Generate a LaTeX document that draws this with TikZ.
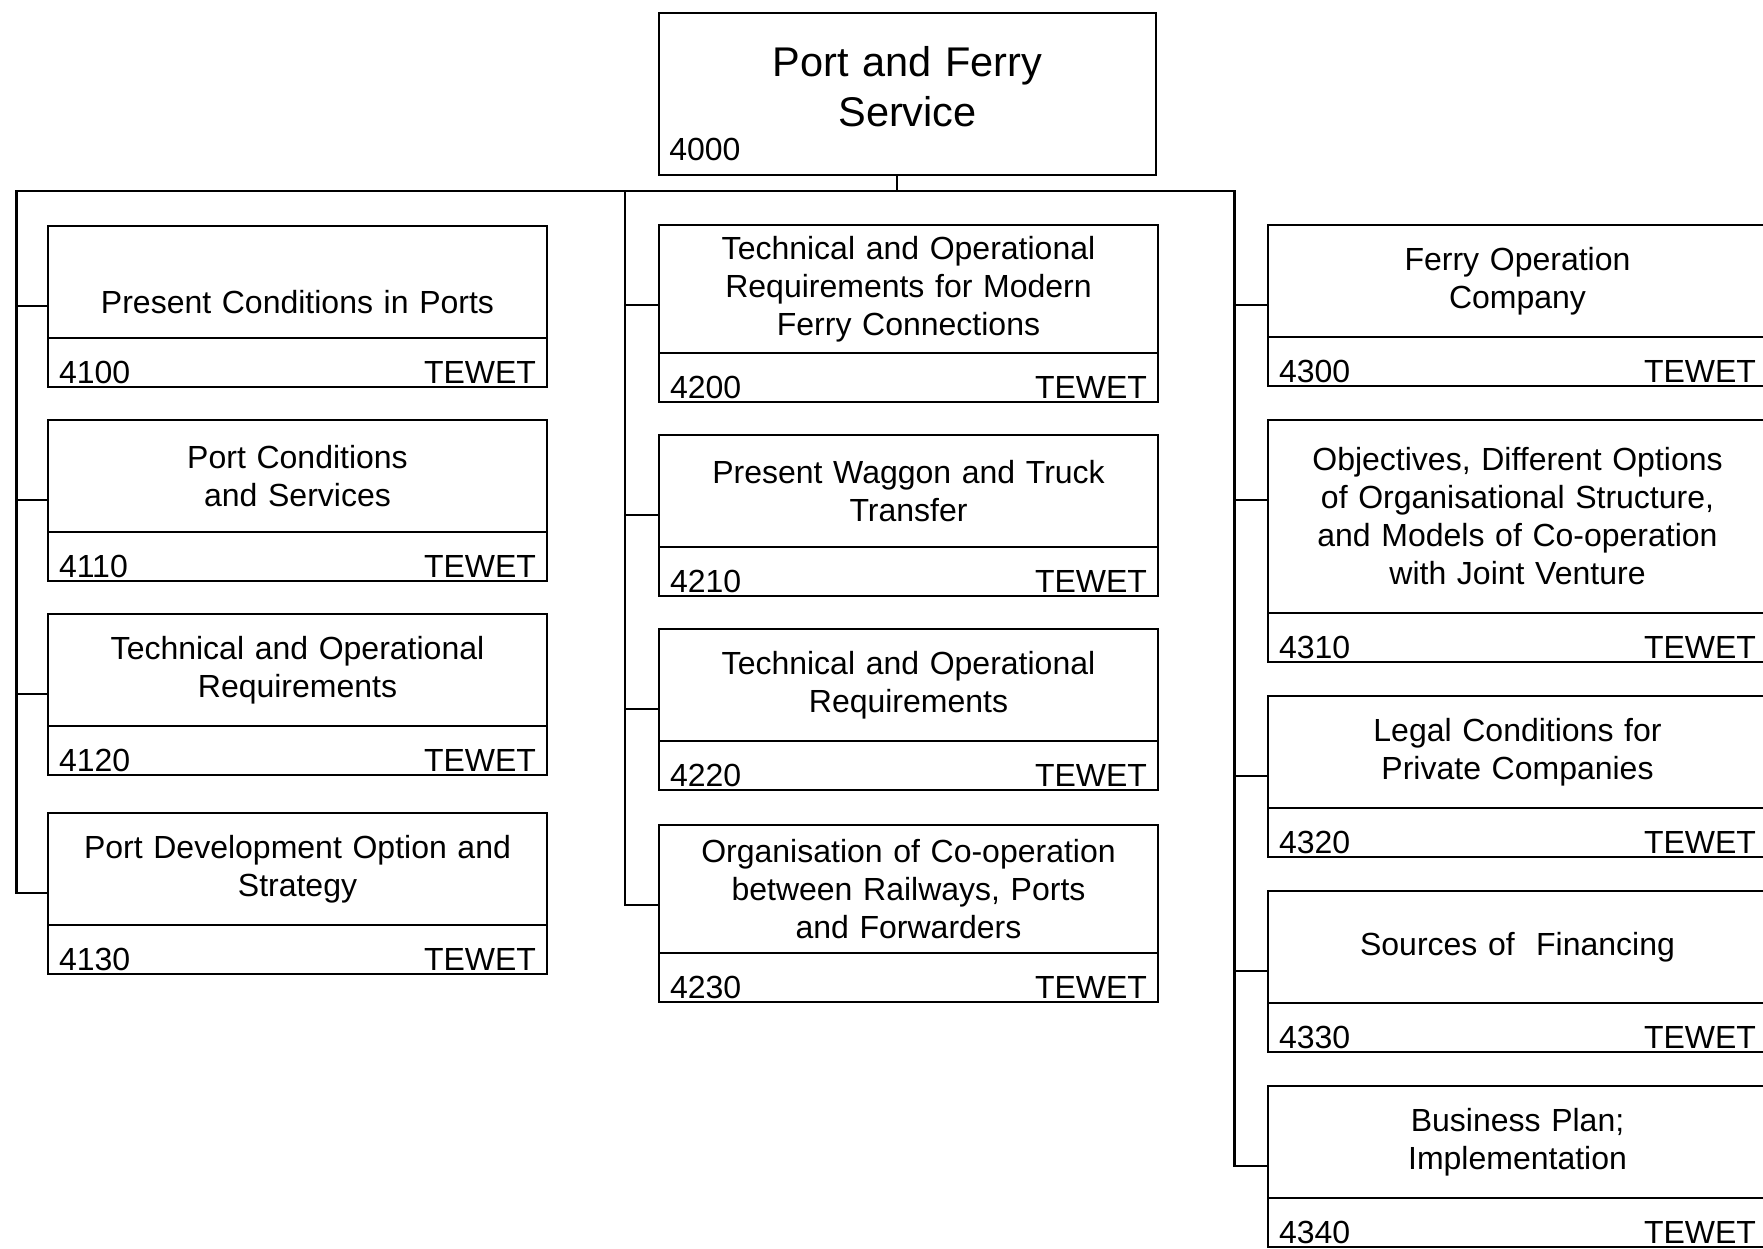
\documentclass[tikz,border=0pt]{standalone}
\usepackage{fontspec}
\setmainfont{Liberation Sans}
\usetikzlibrary{positioning}

\begin{document}
\begin{tikzpicture}[x=1pt, y=-1pt, line width=2.6pt, every node/.style={font=\fontsize{32}{38}\selectfont}]
    % Define styles for the boxes
    \tikzstyle{rootbox} = [draw, rectangle, anchor=north west, minimum width=497pt, minimum height=162pt, text width=480pt, align=center, inner sep=0pt, outer sep=0pt, font=\fontsize{41.5}{50}\selectfont]
    \tikzstyle{titlebox} = [draw, rectangle, anchor=north west, minimum width=499pt, minimum height=112pt, text width=490pt, align=center, inner sep=0pt, outer sep=0pt]
    \tikzstyle{codebox} = [draw, rectangle, minimum width=499pt, minimum height=49pt, text width=477pt, inner xsep=11pt, inner ysep=0pt, outer sep=0pt, text height=45pt, text depth=4pt]

    \useasboundingbox (0,0) rectangle (1763,1248);

    % Root box
    \node [rootbox, text depth=66pt] (root) at (659,13) {Port and Ferry\\Service};
    \node [anchor=base west, inner sep=0pt] (rootcode) at ([shift={(9pt,15pt)}]root.south west) {4000};

    % Left column
    \node [titlebox, text height=63pt] (t4100) at (48,226) {Present Conditions in Ports};
    \node [codebox, below=0pt of t4100] (c4100) {4100\hfill TEWET};
    \node [titlebox, below=33pt of c4100] (t4110) {Port Conditions\\and Services};
    \node [codebox, below=0pt of t4110] (c4110) {4110\hfill TEWET};
    \node [titlebox, below=33pt of c4110] (t4120) {Technical and Operational\\Requirements};
    \node [codebox, below=0pt of t4120] (c4120) {4120\hfill TEWET};
    \node [titlebox, below=38pt of c4120] (t4130) {Port Development Option and\\Strategy};
    \node [codebox, below=0pt of t4130] (c4130) {4130\hfill TEWET};

    % Middle column
    \node [titlebox, minimum height=128pt] (t4200) at (659,225) {Technical and Operational\\Requirements for Modern\\Ferry Connections};
    \node [codebox, below=0pt of t4200] (c4200) {4200\hfill TEWET};
    \node [titlebox, below=33pt of c4200] (t4210) {Present Waggon and Truck\\Transfer};
    \node [codebox, below=0pt of t4210] (c4210) {4210\hfill TEWET};
    \node [titlebox, below=33pt of c4210] (t4220) {Technical and Operational\\Requirements};
    \node [codebox, below=0pt of t4220] (c4220) {4220\hfill TEWET};
    \node [titlebox, minimum height=128pt, below=35pt of c4220] (t4230) {Organisation of Co-operation\\between Railways, Ports\\and Forwarders};
    \node [codebox, below=0pt of t4230] (c4230) {4230\hfill TEWET};

    % Right column
    \node [titlebox] (t4300) at (1268,225) {Ferry Operation\\Company};
    \node [codebox, below=0pt of t4300] (c4300) {4300\hfill TEWET};
    \node [titlebox, minimum height=193pt, below=34pt of c4300] (t4310) {Objectives, Different Options\\of Organisational Structure,\\and Models of Co-operation\\with Joint Venture};
    \node [codebox, below=0pt of t4310] (c4310) {4310\hfill TEWET};
    \node [titlebox, below=34pt of c4310] (t4320) {Legal Conditions for\\Private Companies};
    \node [codebox, below=0pt of t4320] (c4320) {4320\hfill TEWET};
    \node [titlebox, below=34pt of c4320] (t4330) {Sources of~ Financing};
    \node [codebox, below=0pt of t4330] (c4330) {4330\hfill TEWET};
    \node [titlebox, below=34pt of c4330] (t4340) {Business Plan;\\Implementation};
    \node [codebox, below=0pt of t4340] (c4340) {4340\hfill TEWET};

    % Bus lines
    \coordinate (busL) at (16.5,191);
    \coordinate (busM) at (625,191);
    \coordinate (busR) at (1234.5,191);
    \draw ([xshift=-10.5pt]root.south) -- ([xshift=-10.5pt]root.south |- busL);
    \draw ([yshift=-80pt]t4130.north west) -| (busL) -- (busR) |- ([yshift=-80pt]t4340.north west);
    \draw (busM) |- ([yshift=-80pt]t4230.north west);

    % Branches to the boxes
    \foreach \nd/\bus in {t4100/busL, t4110/busL, t4120/busL, t4200/busM, t4210/busM, t4220/busM, t4300/busR, t4310/busR, t4320/busR, t4330/busR}
        \draw ([yshift=-80pt]\nd.north west) -- ([yshift=-80pt]\nd.north west -| \bus);
\end{tikzpicture}
\end{document}
